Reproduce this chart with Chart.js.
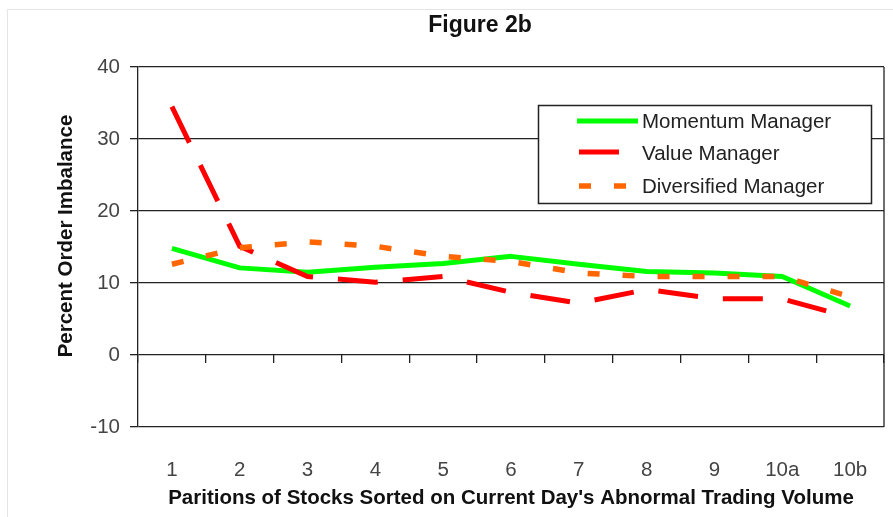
<!DOCTYPE html>
<html>
<head>
<meta charset="utf-8">
<script src="https://cdn.jsdelivr.net/npm/chart.js@4/dist/chart.umd.min.js"></script>
<style>
  html, body { margin: 0; padding: 0; background: #fff; }
  #wrap { width: 893px; height: 517px; position: relative; }
</style>
</head>
<body>
<div id="wrap"><canvas id="c" width="893" height="517"></canvas></div>
<script>
const categories = ['1', '2', '3', '4', '5', '6', '7', '8', '9', '10a', '10b'];
const momentumManager = [14.8, 12.1, 11.5, 12.2, 12.7, 13.7, 12.6, 11.6, 11.4, 10.9, 6.8];
const valueManager = [34.5, 15.1, 10.9, 10.1, 10.9, 8.7, 7.2, 9.1, 7.8, 7.8, 5.2];
const diversifiedManager = [12.6, 14.9, 15.7, 15.1, 13.7, 13.0, 11.4, 10.9, 10.9, 10.9, 8.1];
const seriesNames = ['Momentum Manager', 'Value Manager', 'Diversified Manager'];
const yTicks = [-10, 0, 10, 20, 30, 40];
const chartTitle = 'Figure 2b';
const yTitle = 'Percent Order Imbalance';
const xTitle = "Paritions of Stocks Sorted on Current Day's Abnormal Trading Volume";

const FONT = 'Liberation Sans, Arial, sans-serif';
const GRID = '#222';

const bgPlugin = {
  id: 'bg',
  beforeDraw(chart) {
    const ctx = chart.ctx;
    ctx.save();
    ctx.fillStyle = '#fff';
    ctx.fillRect(0, 0, chart.width, chart.height);
    ctx.strokeStyle = '#e4e4e4';
    ctx.lineWidth = 1;
    ctx.beginPath();
    ctx.moveTo(7.5, chart.height);
    ctx.lineTo(7.5, 9.5);
    ctx.lineTo(chart.width, 9.5);
    ctx.stroke();
    ctx.restore();
  },
  afterDatasetsDraw(chart) {
    const ctx = chart.ctx;
    const a = chart.chartArea;
    ctx.save();
    // right border of plot area
    ctx.strokeStyle = GRID;
    ctx.lineWidth = 1.3;
    ctx.beginPath();
    ctx.moveTo(a.right, a.top);
    ctx.lineTo(a.right, a.bottom);
    ctx.stroke();

    // chart title
    ctx.fillStyle = '#111';
    ctx.font = 'bold 23px ' + FONT;
    ctx.textAlign = 'center';
    ctx.textBaseline = 'middle';
    ctx.fillText(chartTitle, 480, 26);

    // y axis title
    ctx.save();
    ctx.translate(66, 236);
    ctx.rotate(-Math.PI / 2);
    ctx.font = 'bold 20.5px ' + FONT;
    ctx.fillText(yTitle, 0, 0);
    ctx.restore();

    // legend box
    const bx = 538.5, by = 105.5, bw = 333, bh = 98;
    ctx.fillStyle = '#fff';
    ctx.fillRect(bx, by, bw, bh);
    ctx.strokeStyle = '#222';
    ctx.lineWidth = 1.5;
    ctx.strokeRect(bx, by, bw, bh);
    const rows = [
      {y: 121, x1: 577, x2: 638, ty: 122},
      {y: 152, x1: 579, x2: 620, ty: 154},
      {y: 186, x1: 579, x2: 627, ty: 187}
    ];
    chart.data.datasets.forEach((ds, i) => {
      const r = rows[i];
      ctx.save();
      ctx.strokeStyle = ds.borderColor;
      ctx.lineWidth = ds.borderWidth;
      ctx.lineCap = 'butt';
      ctx.setLineDash(ds.borderDash || []);
      ctx.beginPath();
      ctx.moveTo(r.x1, r.y);
      ctx.lineTo(r.x2, r.y);
      ctx.stroke();
      ctx.restore();
      ctx.fillStyle = '#222';
      ctx.font = '20.5px ' + FONT;
      ctx.textBaseline = 'middle';
      ctx.textAlign = 'left';
      ctx.fillText(ds.label, 642, r.ty);
    });
    ctx.restore();
  }
};

new Chart(document.getElementById('c'), {
  type: 'line',
  data: {
    labels: categories,
    datasets: [
      {label: seriesNames[0], data: momentumManager, borderColor: '#00ff00', borderWidth: 5, order: 3, borderJoinStyle: 'round'},
      {label: seriesNames[1], data: valueManager, borderColor: '#ff0000', borderWidth: 5, borderDash: [40, 25], order: 2},
      {label: seriesNames[2], data: diversifiedManager, borderColor: '#ff6600', borderWidth: 5.5, borderDash: [12, 23], order: 1}
    ]
  },
  options: {
    responsive: false,
    animation: false,
    layout: {padding: {left: 0, right: 9, top: 67, bottom: 0}},
    elements: {point: {radius: 0}, line: {tension: 0, borderCapStyle: 'butt'}},
    plugins: {
      legend: {display: false},
      tooltip: {enabled: false},
      title: {display: false}
    },
    scales: {
      x: {
        type: 'category',
        offset: true,
        grid: {display: false},
        border: {display: false},
        ticks: {color: '#444', font: {family: FONT, size: 20.5}, padding: 23, maxRotation: 0, autoSkip: false},
        title: {
          display: true,
          text: xTitle,
          color: '#111',
          font: {family: FONT, size: 20.5, weight: 'bold'},
          padding: {top: 0, bottom: 6}
        },
        afterFit(s) { s.height = 90; }
      },
      x2: {
        axis: 'x',
        type: 'category',
        labels: categories,
        position: {y: 0},
        offset: true,
        grid: {display: true, offset: true, drawOnChartArea: false, drawTicks: true, tickLength: 8, color: GRID, lineWidth: 1.3},
        border: {display: false},
        ticks: {display: false},
        afterFit(s) { s.height = 0; }
      },
      y: {
        min: -10,
        max: 40,
        afterBuildTicks(s) { s.ticks = yTicks.map(v => ({value: v})); },
        grid: {color: GRID, lineWidth: 1.3, drawTicks: true, tickLength: 8},
        border: {display: true, color: GRID, width: 1.3},
        ticks: {color: '#444', font: {family: FONT, size: 20.5}, padding: 10},
        afterFit(s) { s.width = 138; }
      }
    }
  },
  plugins: [bgPlugin]
});
</script>
</body>
</html>
